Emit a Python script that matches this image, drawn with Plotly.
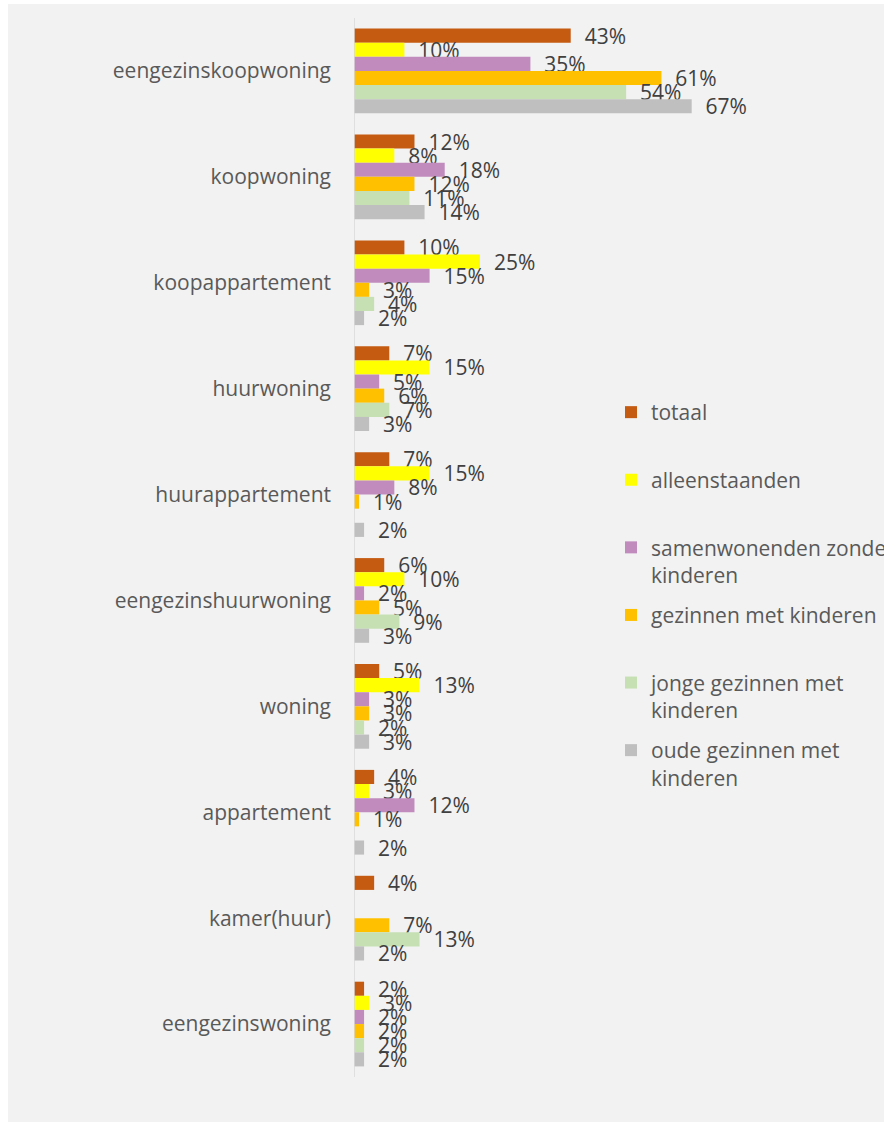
import plotly.graph_objects as go

# Woningtypen en aandelen per huishoudtype (in %)
categories = [
    "eengezinskoopwoning", "koopwoning", "koopappartement", "huurwoning",
    "huurappartement", "eengezinshuurwoning", "woning", "appartement",
    "kamer(huur)", "eengezinswoning",
]
totaal = [43, 12, 10, 7, 7, 6, 5, 4, 4, 2]
alleenstaanden = [10, 8, 25, 15, 15, 10, 13, 3, None, 3]
samenwonenden_zonder_kinderen = [35, 18, 15, 5, 8, 2, 3, 12, None, 2]
gezinnen_met_kinderen = [61, 12, 3, 6, 1, 5, 3, 1, 7, 2]
jonge_gezinnen_met_kinderen = [54, 11, 4, 7, None, 9, 2, None, 13, 2]
oude_gezinnen_met_kinderen = [67, 14, 2, 3, 2, 3, 3, 2, 2, 2]

series = [
    ("totaal", totaal, "#C55A11"),
    ("alleenstaanden", alleenstaanden, "#FFFF00"),
    ("samenwonenden zonder<br>kinderen", samenwonenden_zonder_kinderen, "#C18BBE"),
    ("gezinnen met kinderen", gezinnen_met_kinderen, "#FFC000"),
    ("jonge gezinnen met<br>kinderen", jonge_gezinnen_met_kinderen, "#C6E0B4"),
    ("oude gezinnen met<br>kinderen", oude_gezinnen_met_kinderen, "#BFBFBF"),
]

W, H = 884, 1122
L, R, T, B = 354, 124, 18, 45
PW, PH = W - L - R, H - T - B
FONT = "Open Sans"
FS = 21
NB = "\u00a0"

fig = go.Figure()
for i, (name, vals, color) in enumerate(series):
    label = name if "<br>" in name else name + "<br>" + NB
    fig.add_trace(go.Bar(
        y=categories,
        x=vals,
        orientation="h",
        name=label,
        legendgroup=f"g{i}",
        marker=dict(color=color, line=dict(width=0)),
        text=[None if v is None else f"{NB*2}{v}%" for v in vals],
        textposition="outside",
        constraintext="none",
        cliponaxis=False,
        textfont=dict(family=FONT, size=FS, color="#404040"),
        hoverinfo="skip",
    ))

# grijze achtergrond van het diagramvlak
fig.add_shape(
    type="rect", xref="paper", yref="paper", layer="below",
    x0=(8 - L) / PW, x1=(W - L) / PW,
    y0=(H - B - H) / PH, y1=(H - B - 4) / PH,
    fillcolor="#F2F2F2", line=dict(width=0),
)

fig.update_layout(
    width=W, height=H,
    margin=dict(l=L, r=R, t=T, b=B, pad=0, autoexpand=False),
    paper_bgcolor="white",
    plot_bgcolor="rgba(0,0,0,0)",
    barmode="group",
    bargap=0.2,
    bargroupgap=0,
    font=dict(family=FONT, size=FS, color="#595959"),
    showlegend=True,
    legend=dict(
        x=(611 - L) / PW, xanchor="left",
        y=(H - B - 392) / PH, yanchor="top",
        bgcolor="rgba(0,0,0,0)",
        valign="top",
        tracegroupgap=10,
        font=dict(family=FONT, size=FS, color="#595959"),
        itemclick=False, itemdoubleclick=False,
    ),
    xaxis=dict(
        range=[0, PW / 5.04],
        showgrid=False, zeroline=False, showticklabels=False,
        showline=False, ticks="",
    ),
    yaxis=dict(
        autorange="reversed",
        showgrid=False, zeroline=False,
        showline=False,
        ticks="", ticklabelstandoff=22,
        tickfont=dict(family=FONT, size=FS, color="#595959"),
    ),
)

# verticale as langs de nulwaarde
fig.add_shape(
    type="line", xref="x", yref="paper",
    x0=0, x1=0, y0=0, y1=1,
    line=dict(color="#D9D9D9", width=1.5),
)

fig.write_html("out.html")
